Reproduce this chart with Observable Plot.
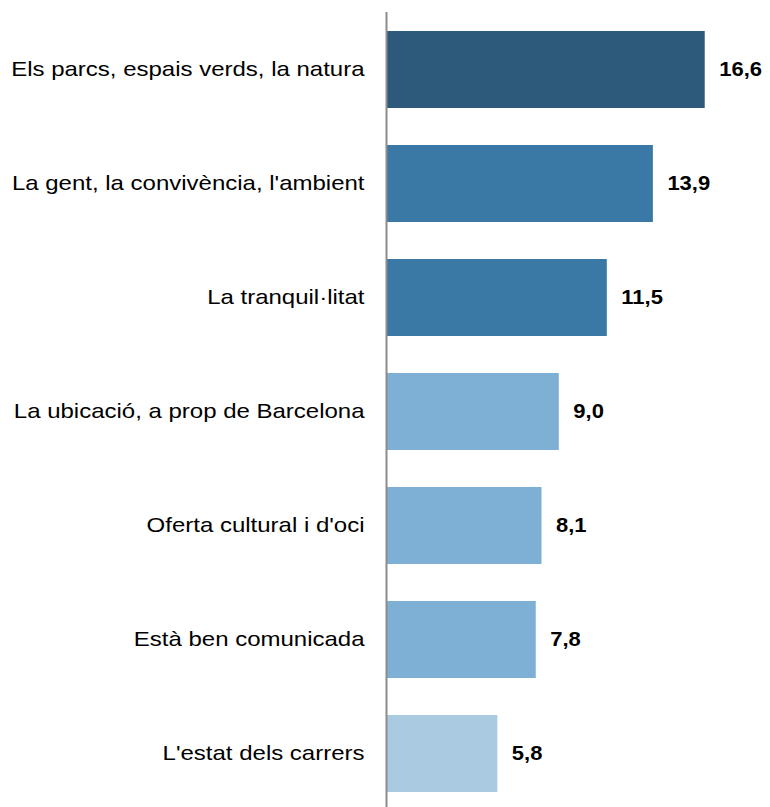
<!DOCTYPE html>
<html>
<head>
<meta charset="utf-8">
<script src="https://cdn.jsdelivr.net/npm/d3@7"></script>
<script src="https://cdn.jsdelivr.net/npm/@observablehq/plot@0.6"></script>
<style>
  html, body { margin: 0; padding: 0; background: #fff; }
  #chart svg { display: block; }
</style>
</head>
<body>
<div id="chart"></div>
<script>
const categories = [
  "Els parcs, espais verds, la natura",
  "La gent, la convivència, l'ambient",
  "La tranquil·litat",
  "La ubicació, a prop de Barcelona",
  "Oferta cultural i d'oci",
  "Està ben comunicada",
  "L'estat dels carrers"
];
const values = [16.6, 13.9, 11.5, 9.0, 8.1, 7.8, 5.8];
const barColors = ["#2d5a7b", "#3a79a6", "#3a79a6", "#7eb0d5", "#7eb0d5", "#7eb0d5", "#a9cae1"];

const data = categories.map((c, i) => ({category: c, value: values[i], color: barColors[i]}));
const fmt = v => v.toFixed(1).replace(".", ",");

const chart = Plot.plot({
  width: 770,
  height: 807,
  marginLeft: 386,
  marginRight: 0,
  marginTop: 30,
  marginBottom: 14,
  style: {fontFamily: "'Liberation Sans', Arial, sans-serif", background: "#fff"},
  x: {domain: [0, 20], axis: null},
  y: {domain: categories, paddingInner: 0.326, paddingOuter: 0, label: null},
  marks: [
    Plot.barX(data, {y: "category", x: "value", fill: "color"}),
    Plot.ruleX([0], {stroke: "#8c8c8c", strokeWidth: 2, insetTop: -18, insetBottom: -14}),
    Plot.text(data, {y: "category", x: "value", text: d => fmt(d.value), textAnchor: "start", dx: 14, fontSize: 20, fontWeight: "bold", fill: "#000", className: "vals"}),
    Plot.axisY({tickSize: 0, tickPadding: 22, fontSize: 20, label: null, color: "#000", className: "cats"})
  ]
});
// widen glyphs horizontally to match the reference's stretched lettering
chart.querySelectorAll(".cats text").forEach(t => {
  const tr = t.getAttribute("transform") || "";
  t.setAttribute("transform", tr + " scale(1.2,1)");
});
chart.querySelectorAll(".vals text").forEach(t => {
  const tr = t.getAttribute("transform") || "";
  t.setAttribute("transform", tr + " scale(1.1,1)");
});
document.getElementById("chart").appendChild(chart);
</script>
</body>
</html>
